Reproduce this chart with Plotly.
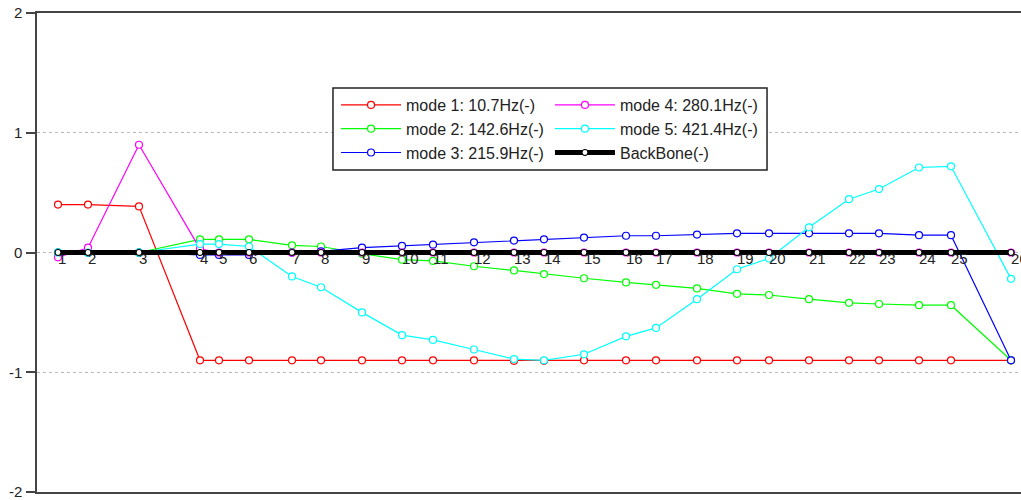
import plotly.graph_objects as go

# node positions along the structure (horizontal coordinate) and their labels
positions = [0, 30, 81, 142, 161, 191, 234, 263, 304, 344, 375, 416, 456, 486,
             526, 568, 598, 639, 679, 711, 751, 791, 821, 861, 893, 953]
node_labels = [str(i) for i in range(1, 27)]

mode1 = [0.40, 0.40, 0.385, -0.90, -0.90, -0.90, -0.90, -0.90, -0.90, -0.90, -0.90, -0.90, -0.905,
         -0.905, -0.90, -0.90, -0.90, -0.90, -0.90, -0.90, -0.90, -0.90, -0.90, -0.90, -0.90, -0.90]
mode2 = [0.0, 0.0, 0.0, 0.11, 0.11, 0.11, 0.06, 0.05, -0.01, -0.06, -0.07, -0.115, -0.15, -0.18,
         -0.215, -0.25, -0.27, -0.30, -0.345, -0.355, -0.39, -0.42, -0.43, -0.44, -0.44, -0.90]
mode3 = [0.0, 0.0, 0.0, -0.02, -0.02, -0.02, 0.0, 0.01, 0.04, 0.055, 0.065, 0.085, 0.10, 0.11,
         0.125, 0.14, 0.14, 0.15, 0.16, 0.16, 0.16, 0.16, 0.16, 0.145, 0.145, -0.90]
mode4 = [-0.04, 0.04, 0.90, 0.03, 0.0, 0.0, 0.0, 0.0, 0.0, 0.0, 0.0, 0.0, 0.0, 0.0,
         0.0, 0.0, 0.0, 0.0, 0.0, 0.0, 0.0, 0.0, 0.0, 0.0, 0.0, 0.0]
mode5 = [0.0, 0.0, 0.0, 0.07, 0.07, 0.05, -0.20, -0.29, -0.50, -0.69, -0.73, -0.81, -0.89, -0.90,
         -0.85, -0.70, -0.63, -0.39, -0.14, -0.05, 0.21, 0.445, 0.53, 0.71, 0.72, -0.22]
backbone = [0.0] * 26

series_names = ["mode 1: 10.7Hz(-)", "mode 2: 142.6Hz(-)", "mode 3: 215.9Hz(-)",
                "mode 4: 280.1Hz(-)", "mode 5: 421.4Hz(-)", "BackBone(-)"]
series_values = [mode1, mode2, mode3, mode4, mode5, backbone]
series_colors = ["#ff0000", "#00ff00", "#0000ff", "#ff00ff", "#00ffff", "#000000"]
legend_ids = ["legend", "legend", "legend", "legend2", "legend2", "legend2"]

FONT = "Liberation Sans, Arial, sans-serif"

fig = go.Figure()
for name, vals, col, lg in zip(series_names, series_values, series_colors, legend_ids):
    is_bb = name.startswith("BackBone")
    fig.add_trace(go.Scatter(
        x=positions, y=vals, name=name, mode="lines+markers",
        line=dict(color=col, width=5 if is_bb else 1.2),
        marker=dict(symbol="circle", size=6 if is_bb else 7, color="white",
                    line=dict(color=col, width=1.2)),
        legend=lg,
    ))

fig.add_trace(go.Scatter(
    x=positions, y=backbone, mode="text", text=node_labels,
    textposition="bottom right", showlegend=False,
    textfont=dict(family=FONT, size=15, color="#222"),
))

legend_common = dict(orientation="v", yanchor="top", xanchor="left",
                     bgcolor="rgba(0,0,0,0)", borderwidth=0, itemwidth=60,
                     font=dict(family=FONT, size=16, color="#222"), tracegroupgap=0)

# plot area spans page pixels x 37..1021, y 13..492
fig.update_layout(
    width=1021, height=500,
    margin=dict(l=37, r=0, t=13, b=8),
    paper_bgcolor="white", plot_bgcolor="white",
    font=dict(family=FONT, size=15, color="#222"),
    xaxis=dict(range=[-21, 963], showgrid=False, zeroline=False, showticklabels=False,
               ticks="", showline=True, mirror=True, linecolor="#444", linewidth=1.5),
    yaxis=dict(range=[-2, 2], tickvals=[-2, -1, 0, 1, 2], ticktext=["-2", "-1", "0", "1", "2"],
               showgrid=True, gridcolor="#bbbbbb", griddash="dot", gridwidth=1,
               zeroline=False, showline=True, linecolor="#444", linewidth=1.5,
               ticks="outside", ticklen=9, tickcolor="#444", tickwidth=1.5,
               ticklabelstandoff=1, ticklabeloverflow="allow",
               tickfont=dict(family=FONT, size=15, color="#222")),
    legend=dict(x=0.3039, y=0.8434, **legend_common),
    legend2=dict(x=0.5213, y=0.8434, **legend_common),
    shapes=[dict(type="rect", xref="paper", yref="paper",
                 x0=0.3008, x1=0.7419, y0=0.6722, y1=0.8434,
                 fillcolor="white", line=dict(color="#222", width=1.5), layer="above")],
    showlegend=True,
)

fig.write_html("out.html", config={"displayModeBar": False},
               post_script="document.body.style.margin='0';document.body.style.overflow='hidden';")
